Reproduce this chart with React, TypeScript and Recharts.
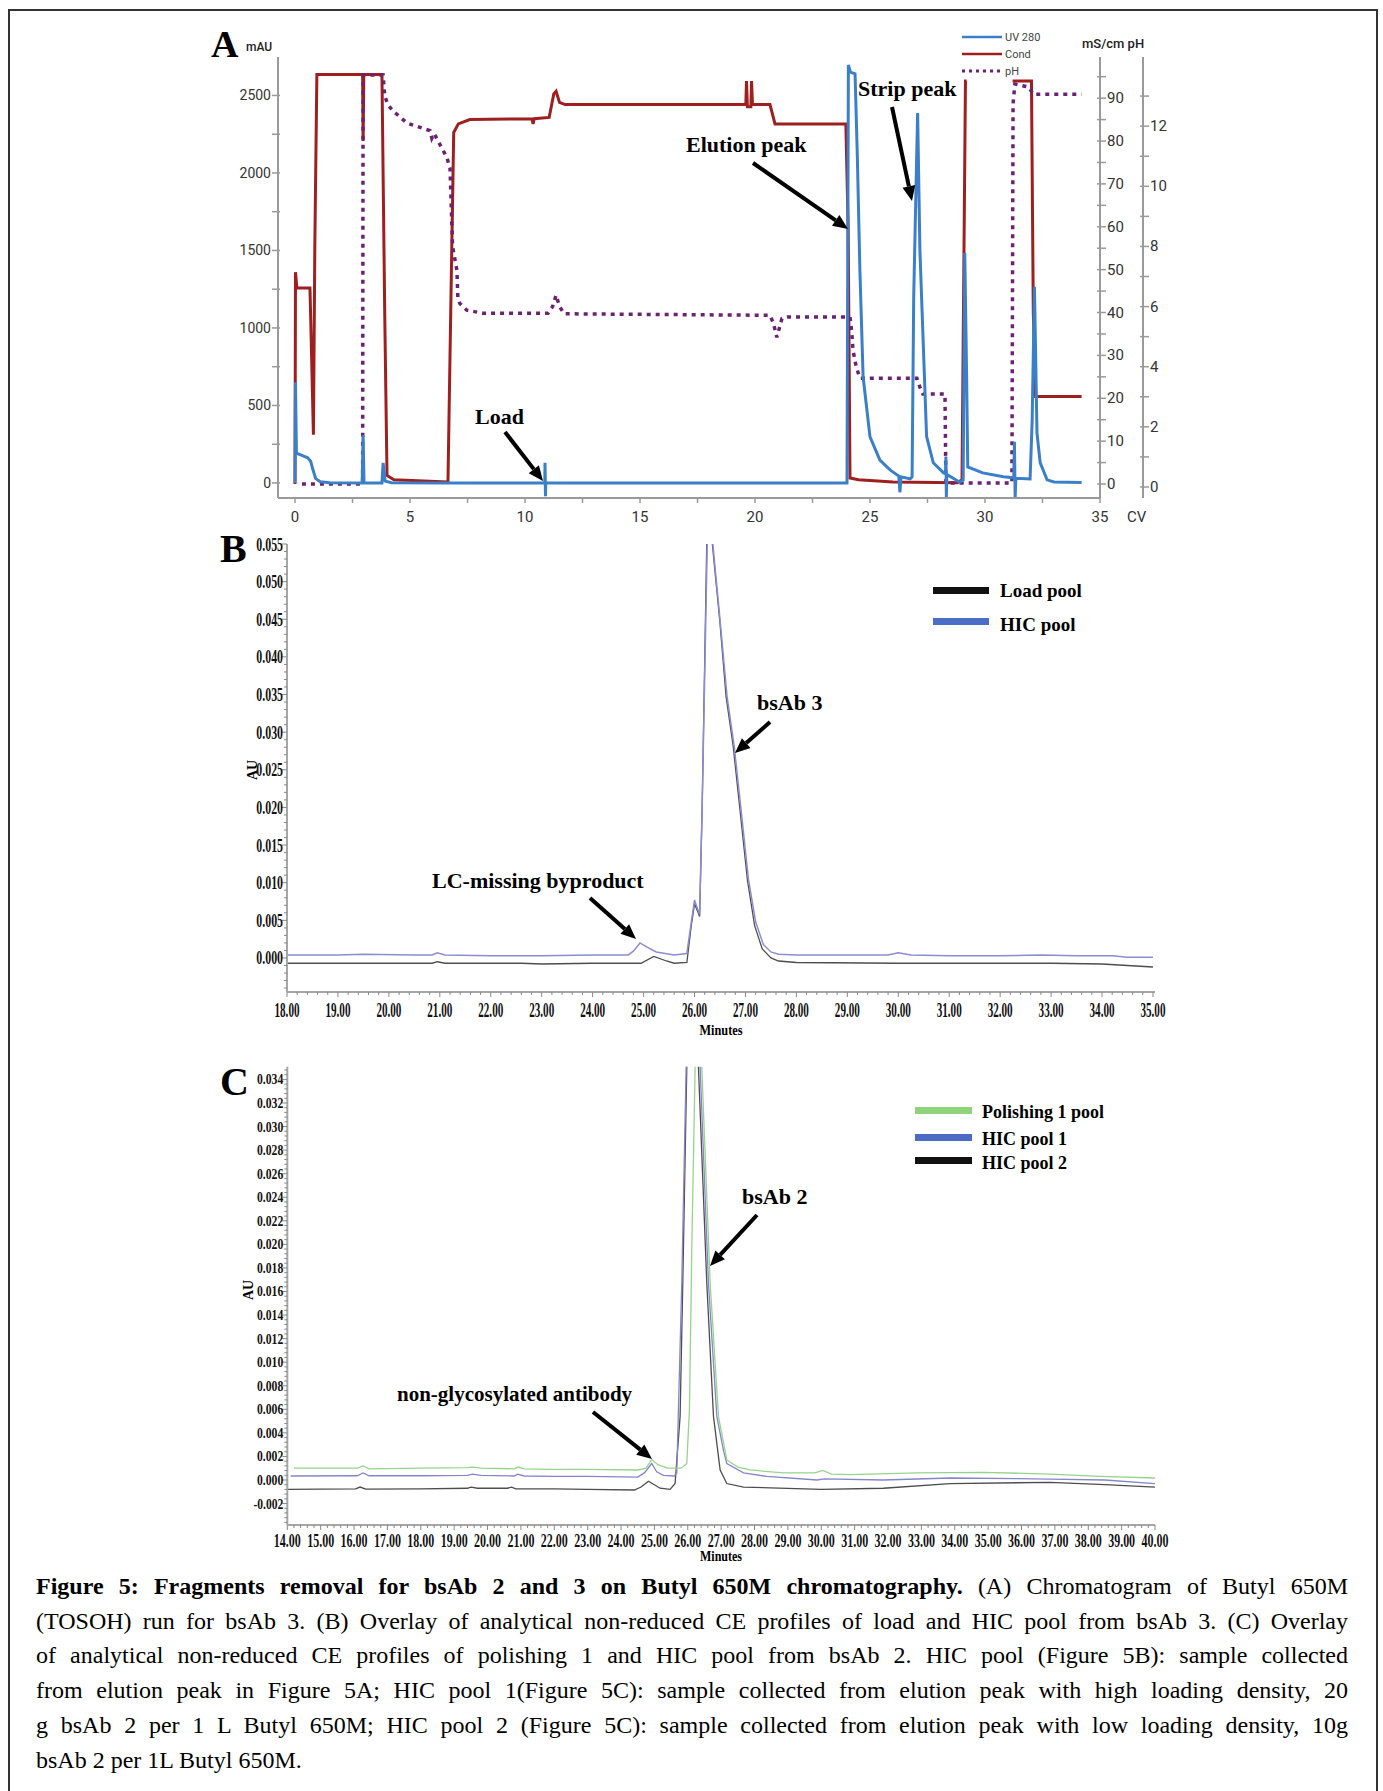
import React from "react";
import { LineChart, Line, XAxis, YAxis } from "recharts";

const SERIF = '"Liberation Serif", "Times New Roman", Times, serif';
const SANS = 'Roboto, "Liberation Sans", Arial, sans-serif';

// ---------- Panel A: Butyl 650M run, x = CV ----------
// [CV, mAU]
const UV_280: [number, number][] = [
  [0, 0], [0.02, 650], [0.06, 192], [0.3, 178], [0.55, 162], [0.68, 140], [0.78, 85], [0.9, 28],
  [1.1, 8], [1.5, 2], [2.92, 0], [2.96, 310], [3.0, 0], [3.78, 0], [3.83, 130], [3.92, 12], [4.2, 2],
  [6.5, 0], [10.86, 0], [10.87, 130], [10.89, -85], [10.9, 0], [24.0, 0], [24.06, 2697], [24.15, 2650],
  [24.35, 2640], [24.45, 2100], [24.56, 1374], [24.7, 684], [25.0, 297], [25.43, 148], [25.87, 84],
  [26.25, 45], [26.3, -60], [26.35, 40], [26.75, 26], [26.83, 40], [26.9, 1200], [27.07, 2387],
  [27.17, 1500], [27.46, 300], [27.75, 130], [28.2, 65], [28.28, 60], [28.3, 170], [28.32, -90],
  [28.34, 55], [28.6, 32], [28.9, 5], [29.05, 20], [29.12, 1484], [29.2, 700], [29.25, 103], [29.9, 65],
  [30.8, 40], [31.25, 33], [31.28, 265], [31.31, -97], [31.34, 30], [31.96, 26], [32.05, 400],
  [32.15, 1265], [32.26, 322], [32.4, 130], [32.7, 20], [33.0, 6], [34.2, 3],
];
// [CV, mS/cm]
const COND: [number, number | null][] = [
  [0, 0], [0.02, 49.4], [0.08, 45.7], [0.65, 45.7], [0.72, 30], [0.8, 11.5], [0.86, 55], [0.95, 95.5],
  [2.94, 95.5], [2.96, 80], [2.99, 95.5], [3.78, 95.5], [3.9, 40], [4.0, 2], [4.3, 1], [6.65, 0.5],
  [6.8, 50], [6.9, 82], [7.1, 84], [7.6, 85], [10.3, 85.2], [10.35, 84], [10.4, 85.2], [11.05, 85.5],
  [11.25, 91], [11.35, 91.6], [11.5, 89], [11.74, 88.5], [19.6, 88.5], [19.63, 94], [19.67, 88],
  [19.82, 88], [19.85, 94], [19.89, 88.5], [20.65, 88.5], [20.87, 84], [23.95, 84], [24.05, 60],
  [24.13, 1.4], [24.5, 1], [26, 0.5], [28.8, 0.3], [29.0, 1], [29.15, 94], [29.2, 94], [29.5, null],
  [31.2, 94], [32.02, 94], [32.1, 40], [32.2, 20.4], [34.2, 20.4],
];
// [CV, pH]
const PH: [number, number][] = [
  [0.3, 0.1], [2.94, 0.1], [2.96, 13.7], [3.83, 13.7], [3.9, 13.0], [4.05, 12.7], [4.27, 12.5],
  [4.87, 12.1], [5.87, 11.85], [5.95, 11.6], [6.05, 11.75], [6.6, 10.96], [6.74, 10.6], [6.85, 8.0],
  [7.04, 7.2], [7.08, 6.3], [7.17, 6.1], [7.47, 5.88], [8.17, 5.78], [11.0, 5.78], [11.2, 6.0],
  [11.35, 6.38], [11.5, 6.0], [11.7, 5.76], [20.65, 5.71], [20.8, 5.45], [20.95, 4.98], [21.17, 5.6],
  [21.4, 5.65], [24.13, 5.65], [24.2, 5.2], [24.26, 4.55], [24.4, 4.0], [24.56, 3.62], [27.04, 3.62],
  [27.17, 3.32], [27.3, 3.09], [28.26, 3.09], [28.3, 0.13], [31.17, 0.13], [31.22, 12.75], [31.3, 13.4],
  [31.9, 13.3], [32.1, 13.06], [34.2, 13.06],
];
const A_X_LABELS = [0, 5, 10, 15, 20, 25, 30, 35];
const A_MAU_LABELS = [0, 500, 1000, 1500, 2000, 2500];
const A_COND_LABELS = [0, 10, 20, 30, 40, 50, 60, 70, 80, 90];
const A_PH_LABELS = [0, 2, 4, 6, 8, 10, 12];

// ---------- Panel B: bsAb 3, load vs HIC pool ----------
// [minutes, AU]
const LOAD_POOL: [number, number][] = [
  [18, -0.0007], [20.85, -0.0007], [20.95, -0.0005], [21.1, -0.0007], [22.6, -0.0007], [23, -0.0008],
  [24, -0.0007], [24.95, -0.0007], [25.2, 0.0002], [25.45, -0.0004], [25.6, -0.0007], [25.85, -0.0006],
  [25.93, 0.004], [26.0, 0.0072], [26.06, 0.0062], [26.1, 0.0055], [26.15, 0.02], [26.24, 0.055],
  [26.29, 0.075], [26.35, 0.055], [26.5, 0.0445], [26.62, 0.0347], [26.76, 0.0281], [26.9, 0.0192],
  [27.04, 0.0103], [27.18, 0.0043], [27.33, 0.0012], [27.5, 0.0], [27.65, -0.0004], [28, -0.0006],
  [30, -0.0007], [32, -0.0007], [33, -0.0007], [34, -0.0008], [35, -0.0012],
];
const HIC_POOL: [number, number][] = [
  [18, 0.0004], [19, 0.0004], [19.5, 0.0005], [20.5, 0.0004], [20.85, 0.0004], [20.95, 0.0007],
  [21.1, 0.0004], [22, 0.0003], [23, 0.0003], [24, 0.0004], [24.7, 0.0004], [24.8, 0.0009],
  [24.93, 0.002], [25.05, 0.0015], [25.25, 0.0008], [25.6, 0.0004], [25.85, 0.0006], [25.92, 0.004],
  [26.0, 0.0077], [26.06, 0.0065], [26.1, 0.0058], [26.15, 0.02], [26.25, 0.055], [26.3, 0.075],
  [26.36, 0.055], [26.5, 0.045], [26.64, 0.0347], [26.78, 0.0281], [26.92, 0.0193], [27.06, 0.0104],
  [27.2, 0.0048], [27.35, 0.0018], [27.5, 0.0008], [27.65, 0.0005], [28, 0.0004], [29, 0.0004],
  [29.8, 0.0004], [30.0, 0.0007], [30.25, 0.0004], [31, 0.0003], [32, 0.0003], [32.8, 0.0004],
  [33.5, 0.0003], [34.2, 0.0003], [34.5, 0.0001], [35, 0.0001],
];
const B_X_LABELS = [18, 19, 20, 21, 22, 23, 24, 25, 26, 27, 28, 29, 30, 31, 32, 33, 34, 35];
const B_Y_LABELS = [0, 0.005, 0.01, 0.015, 0.02, 0.025, 0.03, 0.035, 0.04, 0.045, 0.05, 0.055];

// ---------- Panel C: bsAb 2, polishing 1 vs HIC pools ----------
const POLISHING_1: [number, number][] = [
  [14.2, 0.001], [16.1, 0.001], [16.27, 0.0012], [16.45, 0.00095], [18, 0.001], [19.4, 0.00105],
  [19.57, 0.0011], [19.8, 0.001], [20.8, 0.00095], [20.92, 0.0011], [21.1, 0.00095], [22, 0.0009],
  [23, 0.0009], [24.5, 0.00085], [24.75, 0.001], [24.92, 0.00175], [25.1, 0.0013], [25.4, 0.001],
  [25.8, 0.001], [25.97, 0.0014], [26.05, 0.006], [26.12, 0.0196], [26.22, 0.035], [26.3, 0.045],
  [26.42, 0.035], [26.67, 0.0167], [26.92, 0.0054], [27.17, 0.0017], [27.5, 0.0011], [27.87, 0.00085],
  [28.86, 0.0006], [29.8, 0.0006], [30.05, 0.00082], [30.3, 0.0005], [30.86, 0.00045], [32.86, 0.0006],
  [34.86, 0.00065], [36.86, 0.0005], [38.36, 0.0003], [40, 0.00017],
];
const HIC_POOL_1: [number, number][] = [
  [14.1, 0.00034], [16.1, 0.00036], [16.27, 0.0006], [16.45, 0.00036], [18, 0.00036], [19.4, 0.0004],
  [19.55, 0.0005], [19.8, 0.0004], [20.8, 0.00034], [20.9, 0.0005], [21.1, 0.00034], [22, 0.0003],
  [23, 0.0003], [24.5, 0.00025], [24.7, 0.0006], [24.92, 0.0014], [25.07, 0.0007], [25.27, 0.0004],
  [25.6, 0.00034], [25.67, 0.0006], [25.82, 0.0167], [25.95, 0.035], [26.12, 0.05], [26.37, 0.035],
  [26.62, 0.0167], [26.87, 0.0054], [27.07, 0.0025], [27.17, 0.0014], [27.67, 0.0006], [28.37, 0.0003],
  [29.87, 0.0], [30.1, 0.0001], [31.86, 0.0], [33.86, 0.00017], [36.86, 0.00008], [38.5, 0.0],
  [40, -0.0003],
];
const HIC_POOL_2: [number, number][] = [
  [14, -0.0008], [16.05, -0.00075], [16.18, -0.0006], [16.35, -0.00078], [18, -0.00075], [19.4, -0.0007],
  [19.5, -0.0006], [19.7, -0.0007], [20.6, -0.0007], [20.72, -0.0006], [20.85, -0.00075], [22, -0.00075],
  [23, -0.0008], [24.4, -0.00085], [24.6, -0.0006], [24.82, -0.0001], [25.0, -0.0004], [25.17, -0.0007],
  [25.47, -0.0008], [25.62, -0.0003], [25.77, 0.0054], [25.85, 0.0167], [25.97, 0.035], [26.12, 0.05],
  [26.32, 0.035], [26.57, 0.0167], [26.77, 0.0054], [26.97, 0.00085], [27.17, -0.0003], [27.67, -0.0006],
  [30.0, -0.0008], [31.86, -0.0007], [33.86, -0.0003], [36.86, -0.0002], [38.5, -0.0004], [40, -0.0006],
];
const C_X_LABELS = [
  14, 15, 16, 17, 18, 19, 20, 21, 22, 23, 24, 25, 26, 27, 28, 29, 30, 31, 32, 33, 34, 35, 36, 37, 38, 39, 40,
];
const C_Y_LABELS = [
  -0.002, 0, 0.002, 0.004, 0.006, 0.008, 0.01, 0.012, 0.014, 0.016, 0.018, 0.02, 0.022, 0.024, 0.026,
  0.028, 0.03, 0.032, 0.034,
];

// colours
const A_AXIS = "#9a9a9a";
const UV_BLUE = "#3a7fc8";
const COND_RED = "#9e1f1f";
const PH_PURPLE = "#6b2272";
const FRAME = "#a6a6a6";

const rows = (pts: [number, number | null][]) => pts.map(([x, y]) => ({ x, y }));

function steps(from: number, to: number, step: number) {
  const out: number[] = [];
  const n = Math.round((to - from) / step);
  for (let i = 0; i <= n; i++) out.push(+(from + i * step).toFixed(6));
  return out;
}
const has = (list: number[], v: number) => list.some((l) => Math.abs(l - v) < 1e-9);

// the CE software prints narrow bold serif numbers; squeeze Liberation Serif Bold to that width
function naturalWidth(s: string, size: number) {
  let em = 0;
  for (const ch of s) em += ch === "." ? 0.25 : ch === "-" ? 0.333 : 0.5;
  return em * size;
}
function Squeezed(props: { x: number; y: number; s: string; size: number; width: number; anchor: "start" | "middle" | "end" }) {
  const k = props.width / naturalWidth(props.s, props.size);
  return (
    <text
      transform={`translate(${props.x},${props.y}) scale(${k.toFixed(3)},1)`}
      textAnchor={props.anchor}
      fontFamily={SERIF}
      fontWeight="bold"
      fontSize={props.size}
      fill="#111"
    >
      {props.s}
    </text>
  );
}

// ----- tick renderers -----
const aXTick = (p: any) => {
  const v = p.payload.value;
  return (
    <g>
      <line x1={p.x} y1={p.y} x2={p.x} y2={p.y + 5} stroke={A_AXIS} strokeWidth={1.5} />
      {has(A_X_LABELS, v) && (
        <text x={p.x} y={p.y + 24} textAnchor="middle" fontFamily={SANS} fontSize={15} fill="#333">
          {v}
        </text>
      )}
    </g>
  );
};
const aLeftTick = (p: any) => {
  const v = p.payload.value;
  return (
    <g>
      <line x1={p.x - 6} y1={p.y} x2={p.x + 2} y2={p.y} stroke={A_AXIS} strokeWidth={1.5} />
      {has(A_MAU_LABELS, v) && (
        <text x={p.x - 7} y={p.y + 5} textAnchor="end" fontFamily={SANS} fontSize={14} fill="#333">
          {v}
        </text>
      )}
    </g>
  );
};
const aRightTick = (labels: number[]) => (p: any) => {
  const v = p.payload.value;
  return (
    <g>
      <line x1={p.x - 3} y1={p.y} x2={p.x + 6} y2={p.y} stroke={A_AXIS} strokeWidth={1.5} />
      {has(labels, v) && (
        <text x={p.x + 7} y={p.y + 5} textAnchor="start" fontFamily={SANS} fontSize={15} fill="#333">
          {v}
        </text>
      )}
    </g>
  );
};

const ceXTick = (labels: number[], size: number, perDigit: number, dy: number) => (p: any) => {
  const v = p.payload.value;
  const major = has(labels, v);
  const s = v.toFixed(2);
  return (
    <g>
      <line x1={p.x} y1={p.y} x2={p.x} y2={p.y + (major ? 5 : 3)} stroke="#888" strokeWidth={1} />
      {major && <Squeezed x={p.x} y={p.y + dy} s={s} size={size} width={perDigit * 4 + 2.6} anchor="middle" />}
    </g>
  );
};
const ceYTick = (labels: number[], size: number, perDigit: number, dy: number) => (p: any) => {
  const v = p.payload.value;
  const major = has(labels, v);
  const s = (Math.abs(v) < 1e-9 ? 0 : v).toFixed(3);
  const w = perDigit * 4 + 2.7 + (v < -1e-9 ? 3.6 : 0);
  return (
    <g>
      <line x1={p.x - (major ? 5 : 3)} y1={p.y} x2={p.x} y2={p.y} stroke="#888" strokeWidth={1} />
      {major && <Squeezed x={p.x - 4} y={p.y + dy} s={s} size={size} width={w} anchor="end" />}
    </g>
  );
};

function Arrow({ x1, y1, x2, y2 }: { x1: number; y1: number; x2: number; y2: number }) {
  const a = Math.atan2(y2 - y1, x2 - x1);
  const L = 15;
  const W = 6.5;
  const bx = x2 - L * Math.cos(a);
  const by = y2 - L * Math.sin(a);
  const px = -Math.sin(a) * W;
  const py = Math.cos(a) * W;
  return (
    <g>
      <line x1={x1} y1={y1} x2={bx} y2={by} stroke="#000" strokeWidth={4} />
      <polygon points={`${x2},${y2} ${bx + px},${by + py} ${bx - px},${by - py}`} fill="#000" />
    </g>
  );
}

function PanelA() {
  return (
    <div style={{ position: "absolute", left: 0, top: 0 }}>
      <LineChart width={1200} height={560} margin={{ top: 57, right: 7, bottom: 32, left: 218 }}>
        <XAxis
          dataKey="x"
          type="number"
          domain={[-0.74, 35]}
          allowDataOverflow
          ticks={steps(0, 35, 2.5)}
          interval={0}
          tickSize={0}
          tickMargin={0}
          height={30}
          axisLine={{ stroke: A_AXIS, strokeWidth: 2 }}
          tick={aXTick}
        />
        <YAxis
          yAxisId="mau"
          orientation="left"
          width={60}
          type="number"
          domain={[-97, 2748]}
          allowDataOverflow
          ticks={steps(0, 2500, 250)}
          interval={0}
          tickSize={0}
          tickMargin={0}
          axisLine={{ stroke: A_AXIS, strokeWidth: 2 }}
          tick={aLeftTick}
        />
        <YAxis
          yAxisId="cond"
          orientation="right"
          width={43}
          type="number"
          domain={[-3.26, 99.6]}
          allowDataOverflow
          ticks={steps(0, 95, 5)}
          interval={0}
          tickSize={0}
          tickMargin={0}
          axisLine={{ stroke: A_AXIS, strokeWidth: 2 }}
          tick={aRightTick(A_COND_LABELS)}
        />
        <YAxis
          yAxisId="ph"
          orientation="right"
          width={50}
          type="number"
          domain={[-0.366, 14.3]}
          allowDataOverflow
          ticks={steps(0, 13, 1)}
          interval={0}
          tickSize={0}
          tickMargin={0}
          axisLine={{ stroke: A_AXIS, strokeWidth: 2 }}
          tick={aRightTick(A_PH_LABELS)}
        />
        <Line
          yAxisId="cond"
          data={rows(COND)}
          dataKey="y"
          type="linear"
          stroke={COND_RED}
          strokeWidth={3}
          dot={false}
          isAnimationActive={false}
        />
        <Line
          yAxisId="ph"
          data={rows(PH)}
          dataKey="y"
          type="linear"
          stroke={PH_PURPLE}
          strokeWidth={3.5}
          strokeDasharray="4 5"
          dot={false}
          isAnimationActive={false}
        />
        <Line
          yAxisId="mau"
          data={rows(UV_280)}
          dataKey="y"
          type="linear"
          stroke={UV_BLUE}
          strokeWidth={3}
          dot={false}
          isAnimationActive={false}
        />
      </LineChart>
    </div>
  );
}

function PanelB() {
  return (
    <div style={{ position: "absolute", left: 0, top: 500 }}>
      <LineChart width={1200} height={560} margin={{ top: 44, right: 45, bottom: 28, left: 227 }}>
        <XAxis
          dataKey="x"
          type="number"
          domain={[18, 35.04]}
          allowDataOverflow
          ticks={steps(18, 35, 0.2)}
          interval={0}
          tickSize={0}
          tickMargin={0}
          height={40}
          axisLine={{ stroke: FRAME, strokeWidth: 2 }}
          tick={ceXTick(B_X_LABELS, 20, 5.6, 25)}
        />
        <XAxis xAxisId="top" orientation="top" type="number" domain={[18, 35.04]} height={0} tick={false} axisLine={{ stroke: FRAME, strokeWidth: 2 }} />
        <YAxis
          width={60}
          type="number"
          domain={[-0.00452, 0.055]}
          allowDataOverflow
          ticks={steps(-0.004, 0.055, 0.001)}
          interval={0}
          tickSize={0}
          tickMargin={0}
          axisLine={{ stroke: FRAME, strokeWidth: 2 }}
          tick={ceYTick(B_Y_LABELS, 19, 6.0, 6.5)}
        />
        <YAxis yAxisId="frame" orientation="right" width={0} type="number" domain={[0, 1]} tick={false} axisLine={{ stroke: FRAME, strokeWidth: 2 }} />
        <Line data={rows(LOAD_POOL)} dataKey="y" type="linear" stroke="#4d4d4d" strokeWidth={1.3} dot={false} isAnimationActive={false} />
        <Line data={rows(HIC_POOL)} dataKey="y" type="linear" stroke="#8c8cd4" strokeWidth={1.5} dot={false} isAnimationActive={false} />
      </LineChart>
    </div>
  );
}

function PanelC() {
  return (
    <div style={{ position: "absolute", left: 0, top: 1020 }}>
      <LineChart width={1200} height={560} margin={{ top: 46.7, right: 45, bottom: 15, left: 227.3 }}>
        <XAxis
          dataKey="x"
          type="number"
          domain={[14, 40]}
          allowDataOverflow
          ticks={steps(14, 40, 0.2)}
          interval={0}
          tickSize={0}
          tickMargin={0}
          height={40}
          axisLine={{ stroke: FRAME, strokeWidth: 2 }}
          tick={ceXTick(C_X_LABELS, 18, 6.1, 22)}
        />
        <XAxis xAxisId="top" orientation="top" type="number" domain={[14, 40]} height={0} tick={false} axisLine={{ stroke: FRAME, strokeWidth: 2 }} />
        <YAxis
          width={60}
          type="number"
          domain={[-0.00382, 0.03508]}
          allowDataOverflow
          ticks={steps(-0.0036, 0.0348, 0.0004)}
          interval={0}
          tickSize={0}
          tickMargin={0}
          axisLine={{ stroke: FRAME, strokeWidth: 2 }}
          tick={ceYTick(C_Y_LABELS, 15, 5.9, 5)}
        />
        <YAxis yAxisId="frame" orientation="right" width={0} type="number" domain={[0, 1]} tick={false} axisLine={{ stroke: FRAME, strokeWidth: 2 }} />
        <Line data={rows(HIC_POOL_2)} dataKey="y" type="linear" stroke="#4d4d4d" strokeWidth={1.3} dot={false} isAnimationActive={false} />
        <Line data={rows(HIC_POOL_1)} dataKey="y" type="linear" stroke="#8585cc" strokeWidth={1.3} dot={false} isAnimationActive={false} />
        <Line data={rows(POLISHING_1)} dataKey="y" type="linear" stroke="#97d38c" strokeWidth={1.3} dot={false} isAnimationActive={false} />
      </LineChart>
    </div>
  );
}

function Overlay() {
  const bold = { fontFamily: SERIF, fontWeight: "bold" as const, fill: "#000" };
  return (
    <svg width={1383} height={1791} style={{ position: "absolute", left: 0, top: 0, pointerEvents: "none" }}>
      {/* panel letters */}
      <text x={211} y={57} fontSize={38} {...bold}>A</text>
      <text x={220} y={562} fontSize={40} {...bold}>B</text>
      <text x={220} y={1095} fontSize={40} {...bold}>C</text>

      {/* panel A axis titles and legend */}
      <text x={246} y={51} fontFamily={SANS} fontSize={12} fontWeight={500} fill="#222">mAU</text>
      <text x={1082} y={48} fontFamily={SANS} fontSize={13} fontWeight={500} fill="#222">mS/cm pH</text>
      <text x={1127} y={522} fontFamily={SANS} fontSize={15} fill="#333">CV</text>
      <line x1={962} y1={37} x2={1002} y2={37} stroke={UV_BLUE} strokeWidth={2.5} />
      <line x1={962} y1={54} x2={1002} y2={54} stroke={COND_RED} strokeWidth={2.5} />
      <line x1={962} y1={71} x2={1002} y2={71} stroke={PH_PURPLE} strokeWidth={3} strokeDasharray="3 4" />
      <text x={1005} y={41} fontFamily={SANS} fontSize={11} fill="#444">UV 280</text>
      <text x={1005} y={58} fontFamily={SANS} fontSize={11} fill="#444">Cond</text>
      <text x={1005} y={75} fontFamily={SANS} fontSize={11} fill="#444">pH</text>

      {/* panel A annotations */}
      <text x={475} y={424} fontSize={22} {...bold}>Load</text>
      <Arrow x1={505} y1={432} x2={543} y2={481} />
      <text x={686} y={152} fontSize={22} {...bold}>Elution peak</text>
      <Arrow x1={753} y1={163} x2={848} y2={229} />
      <text x={858} y={96} fontSize={22} {...bold}>Strip peak</text>
      <Arrow x1={892} y1={107} x2={912} y2={201} />

      {/* panel B */}
      <text transform="translate(257,770) rotate(-90)" textAnchor="middle" fontSize={14} {...bold}>AU</text>
      <text transform="translate(721,1035) scale(0.82,1)" textAnchor="middle" fontSize={15} {...bold}>Minutes</text>
      <rect x={933} y={587} width={56} height={7} fill="#111" />
      <rect x={933} y={618} width={56} height={7} fill="#4b6fc6" />
      <text x={1000} y={597} fontSize={19} {...bold}>Load pool</text>
      <text x={1000} y={631} fontSize={19} {...bold}>HIC pool</text>
      <text x={757} y={710} fontSize={22} {...bold}>bsAb 3</text>
      <Arrow x1={770} y1={722} x2={735} y2={753} />
      <text x={432} y={888} fontSize={22} {...bold}>LC-missing byproduct</text>
      <Arrow x1={590} y1={898} x2={636} y2={939} />

      {/* panel C */}
      <text transform="translate(253,1290) rotate(-90)" textAnchor="middle" fontSize={14} {...bold}>AU</text>
      <text transform="translate(721,1561) scale(0.8,1)" textAnchor="middle" fontSize={15} {...bold}>Minutes</text>
      <rect x={915} y={1107} width={57} height={7} fill="#8fd37a" />
      <rect x={915} y={1134} width={57} height={7} fill="#4b6cc2" />
      <rect x={915} y={1157} width={57} height={7} fill="#111" />
      <text x={982} y={1118} fontSize={18} {...bold}>Polishing 1 pool</text>
      <text x={982} y={1145} fontSize={18} {...bold}>HIC pool 1</text>
      <text x={982} y={1169} fontSize={18} {...bold}>HIC pool 2</text>
      <text x={742} y={1204} fontSize={22} {...bold}>bsAb 2</text>
      <Arrow x1={757} y1={1215} x2={710} y2={1266} />
      <text x={397} y={1401} fontSize={21} {...bold}>non-glycosylated antibody</text>
      <Arrow x1={593} y1={1412} x2={652} y2={1459} />
    </svg>
  );
}

const CAPTION_LINES: string[] = [
  "(TOSOH) run for bsAb 3. (B) Overlay of analytical non-reduced CE profiles of load and HIC pool from bsAb 3. (C) Overlay",
  "of analytical non-reduced CE profiles of polishing 1 and HIC pool from bsAb 2. HIC pool (Figure 5B): sample collected",
  "from elution peak in Figure 5A; HIC pool 1(Figure 5C): sample collected from elution peak with high loading density, 20",
  "g bsAb 2 per 1 L Butyl 650M; HIC pool 2 (Figure 5C): sample collected from elution peak with low loading density, 10g",
];

function Caption() {
  const line: React.CSSProperties = { textAlign: "justify", textAlignLast: "justify" };
  return (
    <div
      style={{
        position: "absolute",
        left: 36,
        top: 1569,
        width: 1312,
        fontFamily: SERIF,
        fontSize: 24,
        lineHeight: "34.7px",
        color: "#000",
      }}
    >
      <div style={line}>
        <b>Figure 5: Fragments removal for bsAb 2 and 3 on Butyl 650M chromatography.</b> (A) Chromatogram of Butyl 650M
      </div>
      {CAPTION_LINES.map((t) => (
        <div key={t} style={line}>
          {t}
        </div>
      ))}
      <div>bsAb 2 per 1L Butyl 650M.</div>
    </div>
  );
}

export default function App() {
  return (
    <div style={{ position: "absolute", left: 0, top: 0, width: 1383, height: 1791, overflow: "hidden", background: "#fff" }}>
      <div
        style={{
          position: "absolute",
          left: 8,
          top: 9,
          width: 1366,
          height: 1800,
          borderLeft: "2px solid #333",
          borderTop: "2px solid #333",
          borderRight: "2px solid #333",
        }}
      />
      <PanelA />
      <PanelB />
      <PanelC />
      <Overlay />
      <Caption />
    </div>
  );
}
